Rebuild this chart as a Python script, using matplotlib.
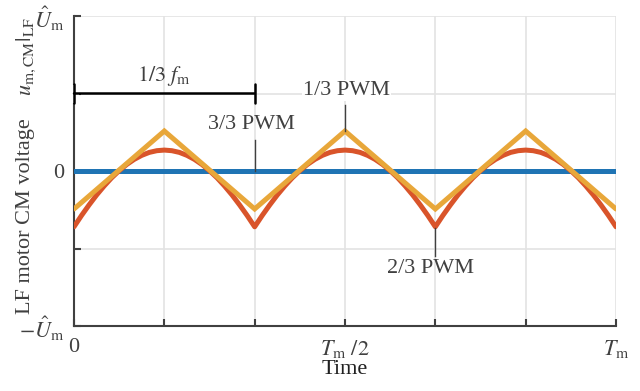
import numpy as np
import matplotlib
matplotlib.use("Agg")
import matplotlib.pyplot as plt
from matplotlib.patches import Rectangle

plt.rcParams['font.family'] = ['Liberation Serif', 'DejaVu Serif']
plt.rcParams['mathtext.fontset'] = 'stix'

# ---- data (time in units of T_m, voltage in units of U_m hat) ----
t_blue = [0.0, 1.0]
v_blue = [0.0, 0.0]

t_yellow = [0, 1/6, 2/6, 3/6, 4/6, 5/6, 1]
v_yellow = [-0.245, 0.258, -0.245, 0.258, -0.245, 0.258, -0.245]

v_red = [-0.360, -0.287, -0.219, -0.155, -0.097, -0.044, 0.002, 0.042, 0.075, 0.101, 0.120, 0.131,
         0.135, 0.131, 0.120, 0.101, 0.075, 0.042, 0.002, -0.044, -0.097, -0.155, -0.219, -0.287,
         -0.360, -0.287, -0.219, -0.155, -0.097, -0.044, 0.002, 0.042, 0.075, 0.101, 0.120, 0.131,
         0.135, 0.131, 0.120, 0.101, 0.075, 0.042, 0.002, -0.044, -0.097, -0.155, -0.219, -0.287,
         -0.360, -0.287, -0.219, -0.155, -0.097, -0.044, 0.002, 0.042, 0.075, 0.101, 0.120, 0.131,
         0.135, 0.131, 0.120, 0.101, 0.075, 0.042, 0.002, -0.044, -0.097, -0.155, -0.219, -0.287,
         -0.360]
t_red = np.arange(len(v_red)) / (len(v_red) - 1)

xticks = [0, 1/6, 2/6, 3/6, 4/6, 5/6, 1]
xticklabels = ['0', '', '', r'$T_\mathrm{m}\ /2$', '', '', r'$T_\mathrm{m}$']
yticks = [-1, -0.5, 0, 0.5, 1]
yticklabels = [r'$-\hat{U}_\mathrm{m}$', '', '0', '', r'$\hat{U}_\mathrm{m}$']

BLUE = '#1F74B4'
RED = '#D9542A'
YELLOW = '#E8A73A'
DARK = '#404040'
GRID = '#E3E3E3'
FS = 16

fig = plt.figure(figsize=(6.4, 3.91), dpi=100)
ax = fig.add_axes([74/640, 65/391, 542/640, 310/391])

ax.set_xlim(0, 1)
ax.set_ylim(-1, 1)

for x in xticks:
    ax.axvline(x, color=GRID, lw=1.2, zorder=0)
for y in [-0.5, 0.5, 1]:
    ax.axhline(y, color=GRID, lw=1.2, zorder=0)

lw = 3.6
ax.plot(t_blue, v_blue, color=BLUE, lw=lw, solid_capstyle='round', zorder=3)
ax.plot(t_red, v_red, color=RED, lw=lw, solid_capstyle='round', solid_joinstyle='round', zorder=4)
ax.plot(t_yellow, v_yellow, color=YELLOW, lw=lw, solid_capstyle='round', solid_joinstyle='miter', zorder=5)

for s in ['top', 'right']:
    ax.spines[s].set_visible(False)
for s in ['left', 'bottom']:
    ax.spines[s].set_color(DARK)
    ax.spines[s].set_linewidth(1.5)

ax.set_xticks(xticks)
ax.set_xticklabels(xticklabels)
ax.set_yticks(yticks)
ax.set_yticklabels(yticklabels)
ax.tick_params(direction='in', length=5, width=1.5, color=DARK, labelsize=FS,
               labelcolor=DARK)
ax.tick_params(axis='x', pad=9)
ax.tick_params(axis='y', pad=7)

ax.set_xlabel('Time', fontsize=FS, labelpad=0, color='#202020')

# y-label pieces
fig.text(26/640, 1 - 216/391, 'LF motor CM voltage', rotation=90, ha='center', va='center',
         fontsize=FS, color=DARK)
fig.text(26/640, 1 - 56/391, r'$u_{\mathrm{m,CM}}|_{\mathrm{LF}}$', rotation=90, ha='center',
         va='center', fontsize=FS, color=DARK)

# white gap on the spine behind the bracket
ax.add_patch(Rectangle((-0.01, 0.44), 0.02, 0.115, facecolor='white', edgecolor='none',
                       zorder=6, clip_on=False))
# bracket 1/3 f_m
ax.annotate('', xy=(0, 0.5), xytext=(1/3, 0.5),
            arrowprops=dict(arrowstyle='|-|, widthA=0.35, widthB=0.35', lw=1.8, color='black',
                            shrinkA=0, shrinkB=0, mutation_scale=20),
            zorder=7, annotation_clip=False)
ax.text(1/6, 0.61, r'$1/3\ f_\mathrm{m}$', ha='center', va='center', fontsize=FS, color=DARK)

# labels with leader lines
ax.plot([1/3, 1/3], [0.2, 0.0], color=DARK, lw=1.0, zorder=6)
ax.text(0.328, 0.297, '3/3 PWM', ha='center', va='center', fontsize=FS, color=DARK)

ax.plot([0.5, 0.5], [0.426, 0.258], color=DARK, lw=1.0, zorder=6)
ax.text(0.503, 0.52, '1/3 PWM', ha='center', va='center', fontsize=FS, color=DARK,
        bbox=dict(facecolor='white', edgecolor='none', pad=1))

ax.plot([2/3, 2/3], [-0.368, -0.548], color=DARK, lw=1.0, zorder=6)
ax.text(0.657, -0.632, '2/3 PWM', ha='center', va='center', fontsize=FS, color=DARK)

fig.savefig('out.png', dpi=100)
